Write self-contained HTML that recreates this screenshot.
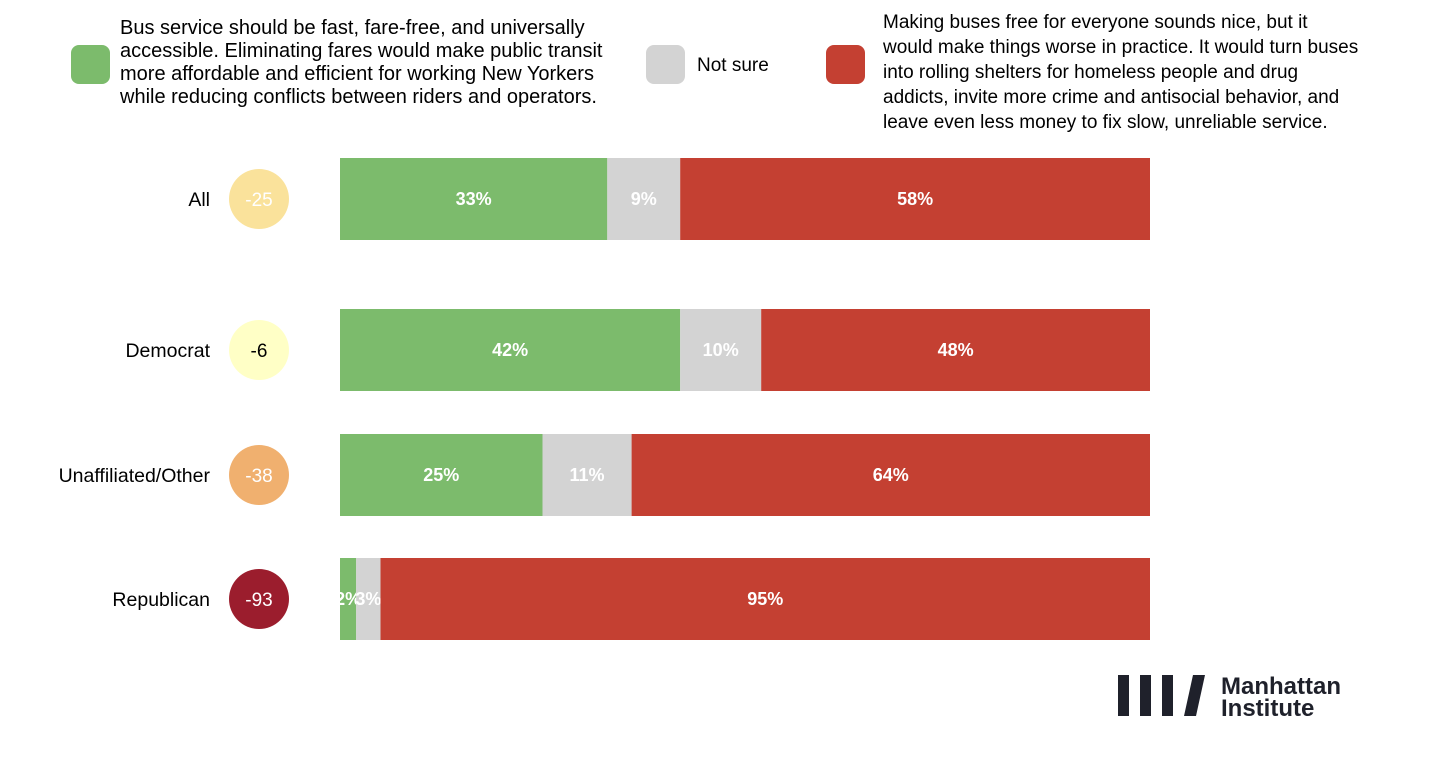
<!DOCTYPE html>
<html><head><meta charset="utf-8"><style>
body{margin:0;background:#fff;font-family:"Liberation Sans",Arial,sans-serif;}
svg{display:block}
</style></head><body>
<svg width="1438" height="766" viewBox="0 0 1438 766" id="chart">
<g fill="#000">
 <rect x="71" y="45" width="39" height="39" rx="8" fill="#7cbb6c"/>
 <text font-size="20">
  <tspan x="120" y="34">Bus service should be fast, fare-free, and universally</tspan>
  <tspan x="120" y="57">accessible. Eliminating fares would make public transit</tspan>
  <tspan x="120" y="80">more affordable and efficient for working New Yorkers</tspan>
  <tspan x="120" y="103">while reducing conflicts between riders and operators.</tspan>
 </text>
 <rect x="646" y="45" width="39" height="39" rx="8" fill="#d3d3d3"/>
 <text x="697" y="71" font-size="19">Not sure</text>
 <rect x="826" y="45" width="39" height="39" rx="8" fill="#c44032"/>
 <text font-size="19">
  <tspan x="883" y="28">Making buses free for everyone sounds nice, but it</tspan>
  <tspan x="883" y="53">would make things worse in practice. It would turn buses</tspan>
  <tspan x="883" y="78">into rolling shelters for homeless people and drug</tspan>
  <tspan x="883" y="103">addicts, invite more crime and antisocial behavior, and</tspan>
  <tspan x="883" y="128">leave even less money to fix slow, unreliable service.</tspan>
 </text>
</g>
<g id="bars"></g>
<g fill="#1f212b">
 <rect x="1118" y="675" width="11" height="41"/>
 <rect x="1140" y="675" width="11" height="41"/>
 <rect x="1162" y="675" width="11" height="41"/>
 <polygon points="1193,675 1205,675 1196,716 1184,716"/>
 <text font-size="24" font-weight="bold"><tspan x="1221" y="694">Manhattan</tspan><tspan x="1221" y="716">Institute</tspan></text>
</g>
</svg>
<script>
const categories = ["All","Democrat","Unaffiliated/Other","Republican"];
const favor = [33,42,25,2];
const notSure = [9,10,11,3];
const oppose = [58,48,64,95];
const netLabels = [-25,-6,-38,-93];

const rowTops = [158,309,434,558];
const barH = 82, x0 = 340, plotW = 810;
const xs = v => v / 100 * plotW;
const g = document.getElementById('bars');
const NS = 'http://www.w3.org/2000/svg';
function netColor(n){ if(n>-15) return '#ffffc6'; if(n>-30) return '#fae29b'; if(n>-60) return '#f0b06f'; return '#9b1d2d'; }
function mk(tag, attrs){ const e=document.createElementNS(NS,tag); for(const k in attrs) e.setAttribute(k,attrs[k]); return e; }
categories.forEach((c,i)=>{
  const y = rowTops[i], cy = y + barH/2;
  const lab = mk('text',{x:210,y:cy+7,'text-anchor':'end','font-size':19.5});
  
  
  lab.textContent = c; g.appendChild(lab);
  const circ = mk('circle',{cx:259,cy:cy,r:30,fill:netColor(netLabels[i])});
  
  
  g.appendChild(circ);
  const nt = mk('text',{x:259,y:cy+7,'text-anchor':'middle','font-size':19,fill:netLabels[i]>-15?'#000':'#fff'});
  
  
  nt.textContent = netLabels[i]; g.appendChild(nt);
  let x = x0;
  [[favor[i],'#7cbb6c'],[notSure[i],'#d3d3d3'],[oppose[i],'#c44032']].forEach(([v,col])=>{
    const w = xs(v);
    const r = mk('rect',{x:x,y:y,width:w,height:barH,fill:col});
    
    
    g.appendChild(r);
    const t = mk('text',{x:x+w/2,y:cy+6,'text-anchor':'middle','font-size':18,'font-weight':'bold',fill:'#fff'});
    
    
    t.textContent = v + '%'; g.appendChild(t);
    x += w;
  });
});
</script>
</body></html>
